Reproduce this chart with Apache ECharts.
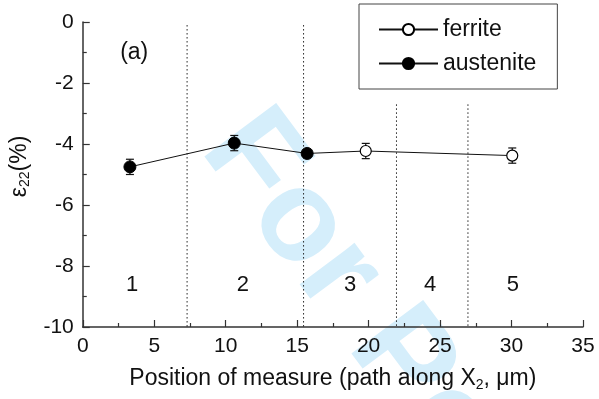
<!DOCTYPE html>
<html><head><meta charset="utf-8">
<script src="https://cdn.jsdelivr.net/npm/echarts@6/dist/echarts.min.js"></script>
<style>html,body{margin:0;padding:0;background:#fff}#c{width:599px;height:399px}</style>
</head><body><div id="c"></div>
<script>
const xTicks = [0, 5, 10, 15, 20, 25, 30, 35];
const yTicks = [-10, -8, -6, -4, -2, 0];
const austX = [3.3, 10.6, 15.7];
const austY = [-4.75, -3.97, -4.31];
const austErr = [0.25, 0.25, 0.1];
const ferX = [19.8, 30.05];
const ferY = [-4.23, -4.38];
const ferErr = [0.25, 0.25];
const boundX = [7.3, 15.45, 21.95, 26.95];
const boundTop = [-0.1, -0.1, -2.7, -2.7];
const regionNames = ['1', '2', '3', '4', '5'];
const regionX = [3.45, 11.2, 18.7, 24.3, 30.1];
const regionY = [-8.62, -8.62, -8.62, -8.62, -8.62];
const panelText = ['(a)'];
const panelX = [3.6];
const panelY = [-1.02];

const FONT = 'Liberation Sans, Arial, Helvetica, sans-serif';
const chart = echarts.init(document.getElementById('c'));

const austData = austX.map((x, i) => [x, austY[i]]);
const lastAust = austData[austData.length - 1];
const ferData = [{ value: lastAust, symbol: 'none' }].concat(ferX.map((x, i) => [x, ferY[i]]));
const errData = austX.map((x, i) => [x, austY[i], austErr[i]]).concat(ferX.map((x, i) => [x, ferY[i], ferErr[i]]));

function textSeries(name, xs, ys, texts, size) {
  return {
    type: 'custom', name: name, silent: true, z: 4,
    data: xs.map((x, i) => [x, ys[i], i]),
    renderItem: (params, api) => {
      const p = api.coord([api.value(0), api.value(1)]);
      return { type: 'text', x: p[0], y: p[1],
        style: { text: texts[api.value(2)], font: size + 'px ' + FONT, fill: '#111', align: 'center', verticalAlign: 'middle' } };
    }
  };
}

chart.setOption({
  animation: false,
  textStyle: { fontFamily: FONT },
  graphic: [{
    type: 'text', x: 176, y: 167, rotation: -0.93, z: -10, silent: true,
    style: { text: 'For Peer Review', font: 'bold 130px ' + FONT, fill: '#d5eefb', verticalAlign: 'bottom' }
  }],
  grid: { left: 82, right: 16, top: 22, bottom: 72 },
  legend: {
    left: 359, top: 4,
    orient: 'vertical',
    data: ['ferrite', 'austenite'],
    itemWidth: 59, itemHeight: 14, itemGap: 11,
    padding: [14, 21, 14, 19],
    borderColor: '#444', borderWidth: 1,
    textStyle: { fontSize: 23, color: '#111', fontFamily: FONT }
  },
  xAxis: {
    type: 'value', min: 0, max: 35, interval: 5,
    name: '{t|Position of measure (path along X}{s|2}{t|, μm)}',
    nameLocation: 'middle', nameGap: 39,
    nameTextStyle: { rich: { t: { fontSize: 23, color: '#111', fontFamily: FONT }, s: { fontSize: 14, color: '#111', fontFamily: FONT, padding: [12, 0, 0, 0] } } },
    axisLine: { onZero: false, lineStyle: { color: '#333', width: 1.5 } },
    axisTick: { inside: true, length: 7, lineStyle: { color: '#333', width: 1.2 } },
    minorTick: { show: true, splitNumber: 2, length: 4, lineStyle: { color: '#333', width: 1.2 } },
    axisLabel: { fontSize: 21, color: '#111', margin: 9, fontFamily: FONT },
    splitLine: { show: false }
  },
  yAxis: {
    type: 'value', min: -10, max: 0, interval: 2,
    name: '{e|ε}{s|22}{e|(%)}',
    nameLocation: 'middle', nameGap: 50, nameRotate: 90,
    nameTextStyle: { padding: [0, 0, 0, 16], rich: { e: { fontSize: 23, color: '#111', fontFamily: FONT }, s: { fontSize: 14, color: '#111', fontFamily: FONT, padding: [12, 0, 0, 0] } } },
    axisLine: { show: true, onZero: false, lineStyle: { color: '#333', width: 1.5 } },
    axisTick: { show: true, inside: true, length: 7, lineStyle: { color: '#333', width: 1.2 } },
    minorTick: { show: true, splitNumber: 2, length: 4, lineStyle: { color: '#333', width: 1.2 } },
    axisLabel: { fontSize: 21, color: '#111', margin: 9, fontFamily: FONT },
    splitLine: { show: false }
  },
  series: [
    {
      type: 'custom', name: 'bounds', silent: true, z: 1,
      data: boundX.map((x, i) => [x, boundTop[i]]),
      renderItem: (params, api) => {
        const p1 = api.coord([api.value(0), api.value(1)]);
        const p2 = api.coord([api.value(0), -10]);
        return { type: 'line', shape: { x1: p1[0], y1: p1[1], x2: p2[0], y2: p2[1] },
          style: { stroke: '#222', lineWidth: 1, lineDash: [1.5, 2.5] } };
      }
    },
    textSeries('regions', regionX, regionY, regionNames, 22),
    textSeries('panel', panelX, panelY, panelText, 23),
    {
      type: 'custom', name: 'err', silent: true, z: 3,
      data: errData,
      renderItem: (params, api) => {
        const x = api.value(0), y = api.value(1), e = api.value(2);
        const top = api.coord([x, y + e]);
        const bot = api.coord([x, y - e]);
        const w = 4;
        const st = { stroke: '#111', lineWidth: 1.2 };
        return { type: 'group', children: [
          { type: 'line', shape: { x1: top[0], y1: top[1], x2: bot[0], y2: bot[1] }, style: st },
          { type: 'line', shape: { x1: top[0] - w, y1: top[1], x2: top[0] + w, y2: top[1] }, style: st },
          { type: 'line', shape: { x1: bot[0] - w, y1: bot[1], x2: bot[0] + w, y2: bot[1] }, style: st }
        ] };
      }
    },
    {
      type: 'line', name: 'austenite', z: 5,
      data: austData,
      symbol: 'circle', symbolSize: 12,
      lineStyle: { color: '#111', width: 1 },
      itemStyle: { color: '#000', borderColor: '#000', borderWidth: 1 }
    },
    {
      type: 'line', name: 'ferrite', z: 5,
      data: ferData,
      symbol: 'circle', symbolSize: 11,
      lineStyle: { color: '#111', width: 1 },
      itemStyle: { color: '#fff', borderColor: '#000', borderWidth: 1.2 }
    }
  ]
});
</script>
</body></html>
